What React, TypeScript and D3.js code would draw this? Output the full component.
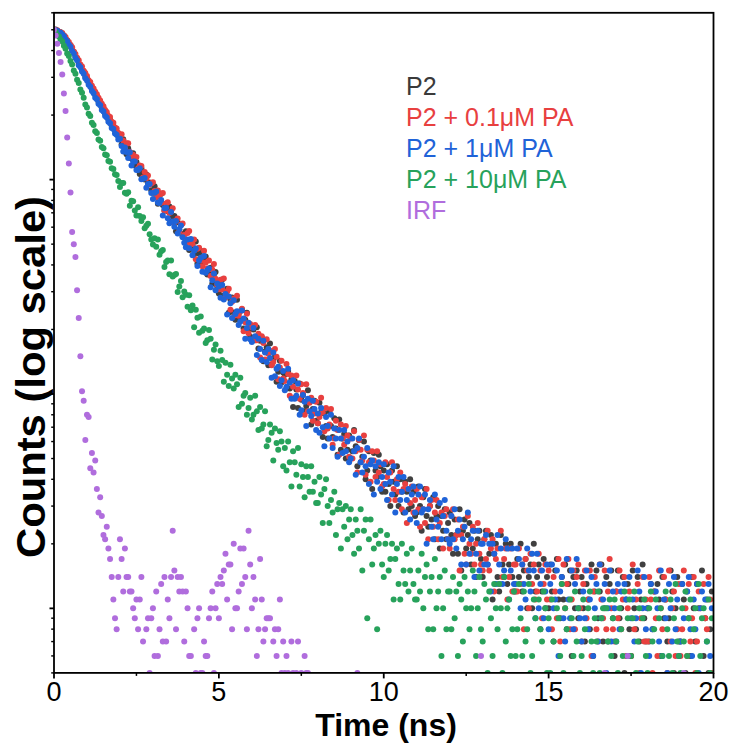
import React from 'react';
import * as d3 from 'd3';

// time step between channels (ns)
const DT = 0.05;
const xTicks = [0, 5, 10, 15, 20];
const xMinorTicks = [2.5, 7.5, 12.5, 17.5];
const yMajorTicks = [10, 100, 1000];
const legendLabels = ['P2', 'P2 + 0.1μM PA', 'P2 + 1μM PA', 'P2 + 10μM PA', 'IRF'];
const seriesColors = ['#404040', '#e8403f', '#1f63d8', '#27a25b', '#b06ddd'];

// P2
const p2 = [
  4980, 5020, 4930, 4890, 4870, 4780, 4700, 4540, 4460, 4290, 4230, 4020, 3940, 3750, 3660, 3470, 3410, 3240, 3190, 3020,
  2970, 2830, 2790, 2640, 2610, 2480, 2450, 2310, 2300, 2160, 2150, 2030, 2020, 1910, 1900, 1790, 1780, 1690, 1680, 1590,
  1582, 1459, 1542, 1420, 1312, 1400, 1329, 1256, 1327, 1163, 1209, 1144, 1063, 1130, 1070, 1002, 1056, 962, 970, 893,
  869, 931, 860, 772, 847, 858, 762, 717, 754, 711, 749, 638, 675, 677, 574, 633, 584, 616, 543, 560,
  575, 513, 470, 524, 491, 448, 515, 406, 452, 464, 404, 415, 438, 361, 374, 388, 327, 362, 371, 318,
  294, 331, 342, 288, 290, 310, 239, 276, 282, 240, 222, 275, 237, 221, 248, 202, 222, 239, 199, 185,
  177, 200, 178, 205, 163, 177, 184, 142, 158, 165, 136, 172, 137, 144, 149, 114, 127, 143, 113, 126,
  123, 106, 128, 106, 117, 87, 115, 105, 86, 112, 94, 99, 83, 88, 104, 94, 72, 85, 93, 75,
  73, 91, 82, 63, 81, 71, 62, 83, 71, 63, 77, 69, 52, 76, 55, 62, 65, 50, 55, 64,
  50, 54, 68, 57, 46, 61, 48, 51, 60, 40, 44, 54, 49, 36, 53, 44, 41, 52, 46, 35,
  44, 35, 47, 38, 30, 44, 39, 34, 46, 30, 40, 35, 28, 39, 35, 29, 40, 30, 35, 27,
  28, 37, 30, 23, 33, 36, 27, 24, 30, 26, 33, 21, 27, 30, 19, 27, 23, 29, 21, 25,
  28, 22, 18, 26, 22, 18, 29, 15, 23, 26, 19, 22, 25, 16, 19, 23, 14, 21, 23, 17,
  14, 21, 23, 16, 18, 22, 11, 18, 20, 14, 12, 22, 16, 14, 20, 13, 16, 20, 14, 12,
  12, 17, 14, 20, 12, 15, 17, 10, 14, 16, 10, 20, 12, 14, 16, 8, 12, 17, 10, 14,
  10, 16, 12, 7, 15, 17, 11, 9, 14, 11, 16, 8, 13, 15, 6, 14, 10, 15, 9, 12,
  14, 10, 7, 13, 11, 8, 16, 6, 12, 15, 9, 12, 16, 7, 10, 14, 7, 13, 15, 9,
  6, 12, 15, 9, 10, 14, 5, 11, 13, 8, 6, 15, 10, 8, 14, 7, 11, 16, 9, 7,
  10, 7, 13, 8, 12, 4, 13, 11, 6, 14, 9, 11, 7, 9, 15, 12, 5, 10, 14, 7,
  7, 13, 11, 5, 12, 9, 6, 14, 10, 7, 13, 10, 4, 15, 6, 9, 11, 5, 8, 12,
];

// P2 + 0.1 uM PA
const p2PA01 = [
  5010, 4960, 4980, 4900, 4860, 4830, 4700, 4630, 4470, 4390, 4250, 4140, 3960, 3850, 3700, 3600, 3440, 3370, 3220, 3140,
  3040, 2910, 2850, 2740, 2660, 2570, 2500, 2410, 2340, 2260, 2200, 2110, 2070, 1980, 1960, 1860, 1840, 1750, 1730, 1650,
  1568, 1629, 1524, 1400, 1477, 1476, 1346, 1275, 1307, 1241, 1275, 1128, 1164, 1156, 1022, 1084, 1015, 1044, 948, 960,
  973, 886, 825, 890, 842, 781, 865, 716, 773, 784, 699, 709, 736, 630, 644, 658, 574, 617, 624, 551,
  513, 564, 576, 499, 500, 525, 425, 476, 481, 420, 394, 466, 411, 385, 420, 355, 381, 404, 345, 323,
  308, 341, 307, 346, 282, 301, 310, 247, 269, 279, 233, 287, 232, 243, 250, 196, 216, 237, 192, 212,
  205, 180, 210, 178, 191, 148, 186, 173, 145, 180, 154, 159, 136, 141, 162, 149, 117, 133, 143, 118,
  115, 138, 124, 98, 122, 108, 96, 122, 105, 95, 111, 101, 80, 111, 83, 91, 96, 75, 81, 92,
  73, 78, 96, 82, 67, 86, 69, 72, 85, 58, 62, 75, 68, 52, 72, 62, 58, 71, 64, 51,
  62, 50, 67, 54, 43, 61, 55, 49, 64, 42, 55, 48, 39, 54, 49, 41, 54, 43, 47, 37,
  38, 48, 41, 32, 43, 48, 36, 32, 40, 35, 43, 29, 36, 38, 25, 36, 31, 37, 28, 32,
  36, 29, 24, 33, 29, 25, 36, 21, 30, 32, 24, 28, 32, 21, 25, 28, 19, 27, 29, 21,
  19, 27, 29, 21, 22, 26, 15, 22, 24, 18, 16, 27, 20, 18, 24, 16, 20, 25, 18, 16,
  15, 21, 17, 23, 15, 19, 21, 12, 17, 19, 13, 23, 14, 17, 19, 11, 14, 19, 12, 16,
  16, 12, 19, 13, 16, 8, 17, 15, 10, 18, 13, 16, 11, 12, 18, 15, 9, 13, 16, 11,
  15, 11, 8, 14, 12, 9, 17, 7, 13, 16, 10, 13, 17, 8, 11, 15, 8, 14, 16, 10,
  7, 13, 15, 9, 11, 15, 6, 12, 14, 8, 7, 16, 11, 9, 15, 8, 12, 17, 10, 8,
  7, 12, 9, 15, 8, 11, 14, 6, 10, 12, 6, 16, 8, 11, 13, 5, 9, 14, 7, 11,
  7, 14, 11, 5, 12, 9, 6, 15, 10, 8, 14, 11, 5, 15, 7, 10, 12, 6, 8, 13,
  6, 8, 15, 10, 6, 13, 7, 9, 14, 5, 7, 12, 10, 4, 13, 9, 8, 14, 11, 5,
];

// P2 + 1 uM PA
const p2PA1 = [
  4990, 4970, 4950, 4860, 4840, 4750, 4660, 4510, 4420, 4260, 4170, 3980, 3880, 3700, 3600, 3420, 3340, 3190, 3120, 2970,
  2900, 2770, 2710, 2590, 2530, 2410, 2370, 2260, 2220, 2110, 2080, 1980, 1950, 1860, 1830, 1740, 1720, 1640, 1620, 1540,
  1550, 1436, 1352, 1412, 1344, 1262, 1342, 1163, 1215, 1214, 1109, 1110, 1129, 1004, 1010, 1018, 916, 953, 953, 866,
  812, 868, 880, 782, 777, 804, 680, 736, 739, 661, 625, 707, 638, 603, 642, 561, 587, 611, 538, 508,
  484, 526, 479, 528, 444, 466, 477, 395, 420, 432, 372, 440, 368, 378, 385, 315, 339, 365, 305, 328,
  317, 281, 322, 276, 293, 235, 285, 265, 226, 274, 236, 243, 210, 218, 245, 225, 181, 203, 215, 180,
  175, 203, 186, 152, 181, 162, 144, 177, 156, 141, 162, 147, 119, 156, 121, 131, 134, 109, 116, 128,
  104, 108, 131, 113, 95, 116, 95, 98, 112, 80, 84, 99, 92, 71, 95, 83, 79, 93, 85, 68,
  81, 66, 86, 70, 57, 78, 71, 62, 80, 56, 69, 62, 51, 68, 62, 53, 68, 54, 60, 48,
  50, 62, 54, 42, 56, 62, 48, 43, 51, 46, 56, 38, 47, 49, 34, 46, 39, 48, 36, 41,
  47, 38, 32, 43, 39, 34, 46, 28, 38, 41, 32, 35, 41, 28, 32, 36, 26, 34, 37, 28,
  25, 34, 37, 28, 29, 34, 20, 29, 32, 24, 21, 34, 26, 24, 31, 21, 27, 32, 23, 21,
  20, 27, 21, 29, 19, 23, 26, 16, 21, 24, 16, 28, 18, 21, 23, 14, 18, 23, 15, 20,
  20, 16, 22, 16, 20, 12, 20, 18, 13, 22, 16, 19, 13, 15, 21, 19, 11, 15, 19, 13,
  13, 19, 17, 10, 16, 13, 11, 19, 15, 12, 18, 15, 9, 18, 10, 13, 15, 9, 12, 16,
  8, 13, 16, 10, 11, 15, 6, 12, 14, 9, 7, 17, 11, 9, 15, 8, 13, 17, 10, 9,
  7, 12, 9, 15, 8, 11, 14, 6, 10, 13, 7, 16, 9, 11, 13, 5, 10, 15, 7, 12,
  10, 7, 13, 8, 12, 4, 13, 11, 6, 14, 9, 11, 7, 9, 15, 12, 5, 10, 14, 8,
  10, 6, 13, 8, 4, 12, 10, 7, 15, 6, 11, 9, 5, 13, 10, 7, 14, 8, 11, 6,
  7, 13, 9, 4, 12, 14, 8, 6, 11, 8, 13, 5, 10, 12, 3, 11, 7, 13, 6, 10,
];

// P2 + 10 uM PA
const p2PA10 = [
  5000, 4880, 4730, 4650, 4490, 4410, 4210, 4080, 3880, 3770, 3580, 3440, 3230, 3120, 2920, 2820, 2630, 2540, 2410, 2240,
  2170, 2030, 1980, 1840, 1800, 1680, 1650, 1540, 1520, 1420, 1400, 1310, 1300, 1220, 1210, 1130, 1120, 1060, 1050, 985,
  923, 964, 965, 869, 858, 873, 756, 796, 792, 718, 680, 743, 677, 641, 668, 593, 609, 623, 556, 526,
  498, 532, 486, 526, 446, 463, 470, 391, 413, 419, 362, 419, 353, 359, 363, 299, 317, 337, 283, 301,
  290, 255, 289, 246, 259, 205, 247, 227, 193, 230, 197, 202, 173, 178, 199, 181, 145, 161, 170, 142,
  135, 159, 144, 114, 140, 123, 109, 137, 118, 106, 123, 111, 87, 119, 90, 98, 101, 80, 86, 96,
  76, 80, 98, 83, 68, 87, 69, 72, 83, 57, 61, 72, 66, 49, 69, 59, 55, 67, 60, 46,
  56, 44, 60, 48, 37, 54, 48, 42, 56, 37, 47, 41, 33, 46, 41, 35, 46, 35, 39, 31,
  31, 41, 34, 25, 36, 40, 30, 25, 32, 28, 35, 22, 29, 31, 19, 29, 24, 30, 21, 26,
  29, 22, 18, 26, 23, 19, 29, 15, 23, 26, 9, 21, 26, 16, 19, 22, 8, 20, 23, 16,
  14, 20, 22, 15, 17, 20, 11, 17, 19, 13, 11, 20, 15, 13, 18, 12, 15, 19, 13, 11,
  11, 15, 12, 18, 10, 14, 16, 8, 12, 14, 8, 17, 10, 12, 14, 6, 10, 15, 8, 12,
  12, 8, 14, 9, 12, 6, 13, 11, 7, 14, 10, 12, 8, 10, 15, 12, 6, 10, 14, 8,
  7, 13, 11, 5, 12, 9, 6, 13, 10, 8, 13, 10, 5, 14, 7, 10, 11, 6, 8, 12,
  6, 8, 13, 9, 6, 12, 7, 8, 13, 5, 6, 11, 9, 4, 11, 8, 7, 12, 10, 5,
  9, 5, 11, 7, 4, 10, 9, 6, 13, 5, 10, 8, 4, 11, 9, 6, 12, 7, 10, 5,
  6, 11, 8, 4, 10, 12, 7, 5, 9, 7, 12, 5, 9, 10, 3, 10, 7, 11, 6, 9,
  11, 7, 5, 10, 8, 6, 12, 4, 9, 11, 6, 9, 12, 5, 7, 10, 4, 9, 11, 6,
  5, 10, 12, 7, 8, 11, 4, 9, 10, 6, 4, 12, 8, 6, 11, 5, 9, 13, 7, 6,
  5, 10, 7, 12, 6, 9, 11, 4, 8, 10, 5, 13, 6, 9, 10, 4, 7, 11, 5, 9,
];

// IRF
const irf = [
  5000, 4700, 4300, 3900, 3540, 3090, 2520, 2090, 1570, 1190, 870, 570, 500, 435, 305, 226, 150, 103, 93, 61,
  80, 78, 45, 53, 43, 49, 36, 28, 33, 27, 22, 21, 24, 19, 17, 14, 11, 9, 8, 14,
  21, 17, 12, 19, 14, 14, 12, 12, 10, 9, 11, 8, 11, 14, 7, 4, 8, 9, 5, 9,
  10, 6, 12, 6, 8, 13, 7, 14, 7, 11, 9, 14, 23, 15, 8, 14, 12, 14, 12, 7,
  12, 10, 6, 6, 4, 8, 5, 9, 10, 5, 5, 7, 6, 6, 9, 10, 12, 5, 10, 13,
  9, 14, 13, 15, 18, 11, 16, 16, 8, 20, 10, 10, 12, 19, 13, 19, 14, 8, 23, 16,
  10, 14, 11, 6, 8, 17, 11, 7, 8, 9, 9, 9, 4, 7, 8, 6, 8, 11, 5, 7,
  5, 6, 5, 4, 7, 5, 4, 5, 7, 4, 5, 3, 6, 5, 5, 3, 4, 2, 3, 4,
  2, 3, 1, 4, 2, 3, 2, 1, 3, 2, 2, 4, 1, 2, 3, 1, 2, 2, 1, 3,
  2, 1, 3, 2, 5, 1, 2, 2, 1, 3, 1, 2, 1, 1, 2, 3, 1, 2, 1, 1,
  2, 1, 1, 3, 1, 2, 1, 1, 2, 1, 3, 1, 1, 2, 1, 1, 2, 1, 1, 2,
  1, 1, 2, 1, 3, 1, 1, 2, 1, 1, 2, 1, 1, 1, 2, 1, 3, 1, 1, 2,
  1, 2, 1, 1, 2, 1, 1, 3, 1, 1, 2, 1, 1, 2, 1, 1, 2, 1, 1, 6,
  1, 2, 1, 1, 3, 1, 2, 1, 1, 2, 1, 1, 2, 1, 3, 1, 1, 2, 1, 1,
  2, 1, 1, 3, 1, 1, 2, 1, 1, 2, 1, 3, 1, 1, 2, 1, 1, 2, 1, 1,
  1, 2, 1, 1, 3, 1, 2, 1, 1, 2, 1, 1, 4, 1, 1, 2, 1, 1, 2, 1,
  1, 2, 1, 3, 1, 1, 2, 1, 1, 2, 1, 1, 3, 1, 5, 1, 2, 1, 1, 2,
  1, 1, 2, 1, 3, 1, 1, 2, 6, 1, 1, 2, 1, 1, 3, 1, 2, 1, 1, 2,
  1, 3, 1, 1, 2, 1, 1, 2, 1, 4, 1, 1, 2, 1, 1, 3, 1, 2, 1, 1,
  2, 1, 5, 1, 1, 2, 1, 3, 1, 1, 2, 1, 1, 2, 1, 4, 1, 1, 2, 1,
];

const allSeries = [p2, p2PA01, p2PA1, p2PA10, irf];

export default function App() {
  const W = 734;
  const H = 749;
  const left = 54;
  const right = 713.5;
  const top = 12.8;
  const bottom = 672.9;
  const x = d3.scaleLinear().domain([0, 20]).range([left, right]);
  const y = d3.scaleLog().domain([5, 6000]).range([bottom, top]);

  const yMinor: number[] = [];
  [1, 10, 100, 1000].forEach((d) => {
    for (let k = 2; k <= 9; k++) {
      const v = k * d;
      if (v >= 5 && v <= 6000) yMinor.push(v);
    }
  });

  const font = "'Liberation Sans', Arial, Helvetica, sans-serif";

  return (
    <svg width={W} height={H} style={{ position: 'absolute', left: 0, top: 0, background: '#fff' }}>
      <defs>
        <clipPath id="plotClip">
          <rect x={left} y={top} width={right - left} height={bottom - top} />
        </clipPath>
      </defs>
      <rect x={0} y={0} width={W} height={H} fill="#fff" />
      <g clipPath="url(#plotClip)">
        {allSeries.map((s, si) => (
          <g key={si} fill={seriesColors[si]}>
            {s.map((v, i) =>
              v > 0 ? <circle key={i} cx={x(i * DT)} cy={y(v)} r={3} /> : null
            )}
          </g>
        ))}
      </g>
      {/* frame */}
      <rect x={left} y={top} width={right - left} height={bottom - top} fill="none" stroke="#000" strokeWidth={1.8} />
      {/* x ticks */}
      {xTicks.map((t) => (
        <g key={'xt' + t}>
          <line x1={x(t)} x2={x(t)} y1={bottom} y2={bottom + 5.5} stroke="#000" strokeWidth={1.8} />
          <text x={x(t)} y={701} textAnchor="middle" fontSize={27} fontFamily={font} fill="#000">{t}</text>
        </g>
      ))}
      {xMinorTicks.map((t) => (
        <line key={'xm' + t} x1={x(t)} x2={x(t)} y1={bottom} y2={bottom + 3} stroke="#000" strokeWidth={1.5} />
      ))}
      {/* y ticks */}
      {yMajorTicks.map((v) => (
        <line key={'ym' + v} x1={left - 4.5} x2={left} y1={y(v)} y2={y(v)} stroke="#000" strokeWidth={1.8} />
      ))}
      {yMinor.map((v) => (
        <line key={'yn' + v} x1={left - 2.8} x2={left} y1={y(v)} y2={y(v)} stroke="#000" strokeWidth={1.4} />
      ))}
      {/* axis titles */}
      <text x={386} y={736} textAnchor="middle" fontSize={32} fontWeight="bold" fontFamily={font} fill="#000">Time (ns)</text>
      <text
        transform="translate(45,377) rotate(-90)"
        textAnchor="middle"
        fontSize={40}
        fontWeight="bold"
        fontFamily={font}
        fill="#000"
        textLength={362}
        lengthAdjust="spacingAndGlyphs"
      >
        Counts (log scale)
      </text>
      {/* legend */}
      {legendLabels.map((lab, i) => (
        <text key={lab} x={406} y={95 + i * 31} fontSize={25} fontFamily={font} fill={i === 0 ? '#3a3a3a' : seriesColors[i]}>
          {lab}
        </text>
      ))}
    </svg>
  );
}
